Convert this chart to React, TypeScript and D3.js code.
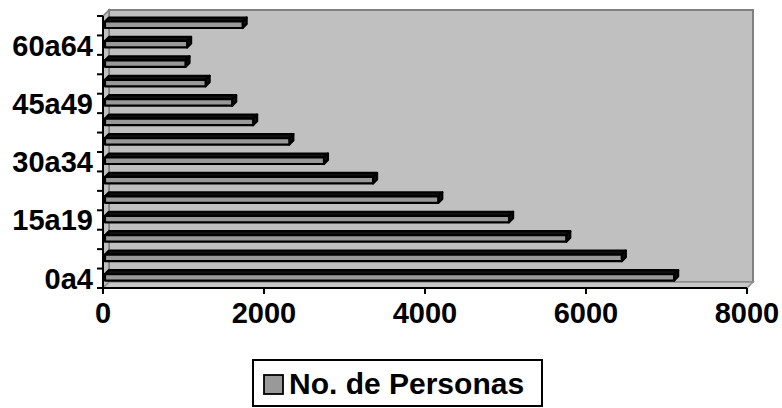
import React from "react";
import * as d3 from "d3";

const categories = ["0a4","5a9","10a14","15a19","20a24","25a29","30a34","35a39","40a44","45a49","50a54","55a59","60a64","65ymas"];
const values = [7070, 6420, 5730, 5020, 4140, 3330, 2720, 2290, 1840, 1580, 1250, 1000, 1020, 1710];
const shownLabels = ["0a4","15a19","30a34","45a49","60a64"];
const xTicks = [0, 2000, 4000, 6000, 8000];
const seriesName = "No. de Personas";

const W = 782, H = 408;
const X0 = 103, X1 = 747, YB = 288, YT = 16;
const DX = 6, DY = 6;
const FONT = "'Liberation Sans', Arial, sans-serif";

export default function App() {
  const x = d3.scaleLinear().domain([0, 8000]).range([X0, X1]);
  const y = d3.scaleBand<string>().domain(categories).range([YB, YT]).paddingInner(0).paddingOuter(0);
  const bh = y.bandwidth();
  const d = 4;

  return (
    <svg width={W} height={H} style={{ position: "absolute", left: 0, top: 0, background: "#fff" }}>
      {/* back wall */}
      <rect x={X0 + DX} y={YT - DY} width={X1 - X0} height={YB - YT} fill="#c0c0c0" stroke="#808080" strokeWidth={2} />
      {/* left wall */}
      <polygon points={`${X0},${YT} ${X0 + DX},${YT - DY} ${X0 + DX},${YB - DY} ${X0},${YB}`} fill="#c0c0c0" stroke="#808080" strokeWidth={1.5} />
      {/* floor */}
      <polygon points={`${X0},${YB} ${X1},${YB} ${X1 + DX},${YB - DY} ${X0 + DX},${YB - DY}`} fill="#c8c8c8" stroke="#909090" strokeWidth={1.5} />

      {/* bars */}
      {categories.map((c, i) => {
        const bandTop = y(c) as number;
        const yT = bandTop + 5.5;
        const yBot = bandTop + 12;
        const xs = x(0) + 2;
        const xf = x(values[i]) + 2;
        return (
          <g key={c} stroke="#000" strokeWidth={2.2} strokeLinejoin="round">
            <polygon points={`${xs},${yT} ${xf},${yT} ${xf + d},${yT - d} ${xs + d},${yT - d}`} fill="#111" />
            <polygon points={`${xf},${yT} ${xf + d},${yT - d} ${xf + d},${yBot - d} ${xf},${yBot}`} fill="#111" />
            <rect x={xs} y={yT} width={xf - xs} height={yBot - yT} fill="#999999" />
          </g>
        );
      })}

      {/* y axis */}
      <line x1={X0} y1={YT} x2={X0} y2={YB + 1} stroke="#000" strokeWidth={2} />
      {d3.range(categories.length + 1).map((k) => {
        const yy = YB - k * bh;
        return <line key={k} x1={X0 - 6} x2={X0} y1={yy} y2={yy} stroke="#000" strokeWidth={2} />;
      })}
      {categories.map((c) =>
        shownLabels.includes(c) ? (
          <text key={c} x={93} y={(y(c) as number) + bh / 2} dy="0.36em" textAnchor="end"
            fontFamily={FONT} fontWeight="bold" fontSize={29} fill="#000">{c}</text>
        ) : null
      )}

      {/* x axis */}
      <line x1={X0 - 1} y1={YB} x2={X1} y2={YB} stroke="#000" strokeWidth={2} />
      {xTicks.map((t) => (
        <g key={t}>
          <line x1={x(t)} x2={x(t)} y1={YB} y2={YB + 6} stroke="#000" strokeWidth={2} />
          <text x={x(t)} y={323} textAnchor="middle" fontFamily={FONT} fontWeight="bold" fontSize={29} fill="#000">{t}</text>
        </g>
      ))}

      {/* legend */}
      <rect x={253} y={360} width={289} height={46} fill="#fff" stroke="#000" strokeWidth={2} />
      <rect x={264} y={375} width={19} height={19} fill="#999999" stroke="#000" strokeWidth={1.8} />
      <text x={289} y={394} fontFamily={FONT} fontWeight="bold" fontSize={30} fill="#000">{seriesName}</text>
    </svg>
  );
}
